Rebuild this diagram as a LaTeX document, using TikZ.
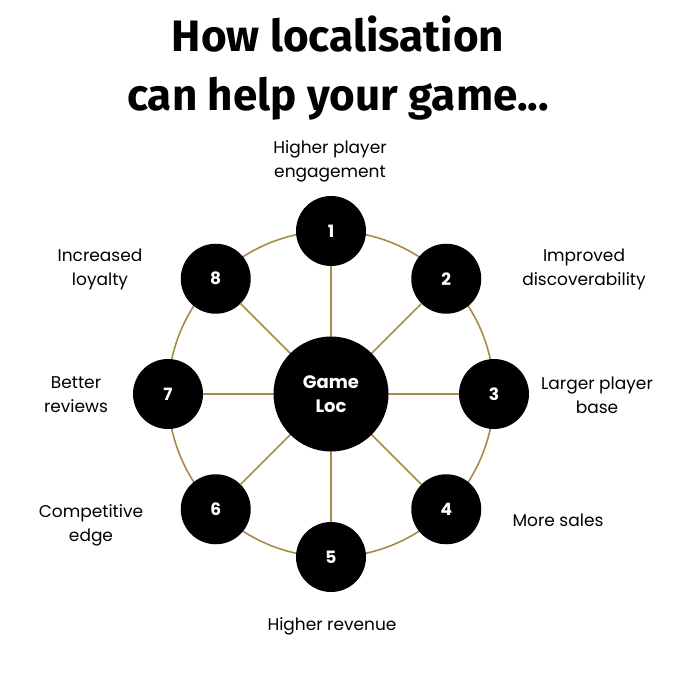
\documentclass[tikz,border=0pt]{standalone}
\usepackage{fontspec}
\setmainfont{Poppins}
\newfontfamily\titlefont{Fira Sans}
\definecolor{gold}{HTML}{A88B4A}
\begin{document}
\begin{tikzpicture}[x=1pt,y=-1pt,
  numnode/.style={circle,fill=black,minimum size=70pt,inner sep=0pt,text=white,font=\fontsize{17}{20}\selectfont\bfseries},
  hub/.style={circle,fill=black,minimum size=115pt,inner sep=0pt,text=white,align=center,font=\fontsize{18}{24}\selectfont\bfseries},
  lbl/.style={align=center,font=\fontsize{17}{24}\selectfont,text=black},
  spoke/.style={draw=gold,line width=1.6pt}]
\useasboundingbox (0,0) rectangle (680,680);
\node[font=\titlefont\fontsize{44}{59}\selectfont\bfseries,align=center] (title) at (338,68) {How localisation\\can help your game...};
\coordinate (c) at (331,394);
\draw[spoke] (c) circle (163);
\foreach \i/\a in {1/-90,2/-45,3/0,4/45,5/90,6/135,7/180,8/225}{
  \path (c) ++(\a:163) node[numnode] (n\i) {\i};
  \draw[spoke] (c) -- (n\i);
}
\node[hub] (hub) at (c) {Game\\Loc};
\node[lbl] (l1) at (330,161) {Higher player\\engagement};
\node[lbl] (l2) at (584,269) {Improved\\discoverability};
\node[lbl] (l3) at (597,395) {Larger player\\base};
\node[lbl] (l4) at (558,520) {More sales};
\node[lbl] (l5) at (332,626) {Higher revenue};
\node[lbl] (l6) at (91,525) {Competitive\\edge};
\node[lbl] (l7) at (76,395) {Better\\reviews};
\node[lbl] (l8) at (100,269) {Increased\\loyalty};
\end{tikzpicture}
\end{document}
